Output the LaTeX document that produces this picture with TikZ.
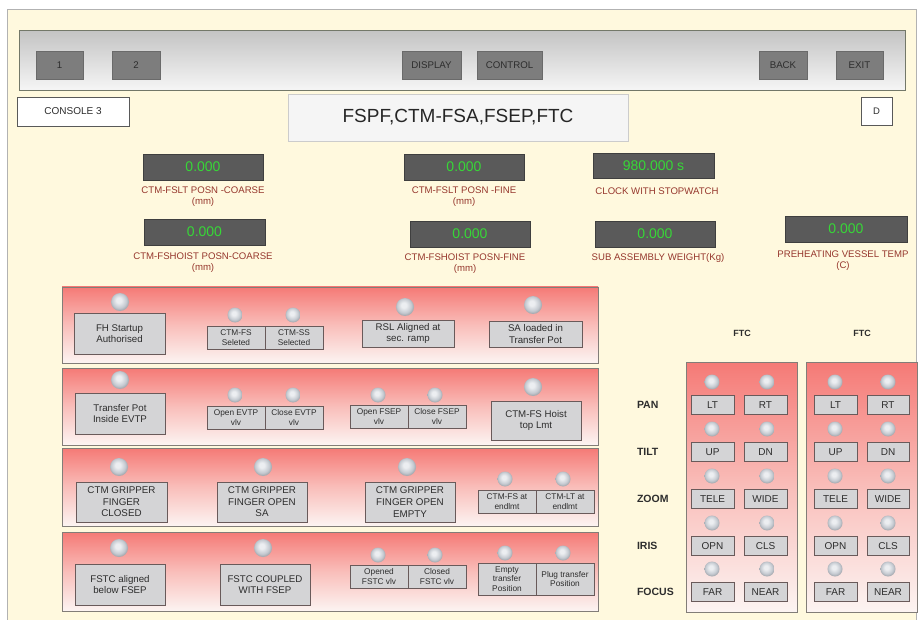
\documentclass[tikz,border=0pt]{standalone}
\usepackage{fontspec}
\setmainfont{Liberation Sans}
\definecolor{cream}{RGB}{255,249,222}
\definecolor{barline}{RGB}{115,120,105}
\definecolor{bartop}{RGB}{196,196,196}
\definecolor{barbot}{RGB}{246,246,246}
\definecolor{tbtn}{RGB}{125,125,125}
\definecolor{rdbox}{RGB}{90,90,90}
\definecolor{rdgreen}{RGB}{55,215,55}
\definecolor{rdlab}{RGB}{150,55,45}
\definecolor{salmon}{RGB}{245,122,118}
\definecolor{panmid}{RGB}{249,190,186}
\definecolor{panbot}{RGB}{252,244,242}
\definecolor{pborder}{RGB}{130,125,120}
\definecolor{bfill}{RGB}{212,212,214}
\definecolor{bborder}{RGB}{105,90,90}
\definecolor{lampc}{RGB}{196,201,208}
\definecolor{lamphi}{RGB}{236,238,241}
\definecolor{lampedge}{RGB}{160,164,170}
\definecolor{darktxt}{RGB}{45,45,45}
\pgfdeclareradialshading{lampsh}{\pgfqpoint{-4bp}{6bp}}{color(0bp)=(lamphi); color(7bp)=(lamphi); color(20bp)=(lampc); color(27bp)=(lampedge); color(50bp)=(lampedge)}
\newcommand\bx[7]{\node[#1,minimum width={(#4-#2)*1pt},minimum height={(#5-#3)*1pt}] (#6) at ({(#2+#4)/2},{(#3+#5)/2}) {#7};}
\begin{document}
\begin{tikzpicture}[x=1pt,y=-1pt,
  every node/.style={inner sep=0pt,outer sep=0pt},
  panel/.style={draw=pborder,line width=0.8pt,top color=salmon,bottom color=panbot,middle color=panmid},
  tbutton/.style={fill=tbtn,draw=tbtn!85!black,line width=0.4pt,font=\fontsize{9.7}{11}\selectfont,text=darktxt},
  readout/.style={fill=rdbox,draw=rdbox!70!black,line width=0.6pt,font=\fontsize{14}{16}\selectfont,text=rdgreen},
  rlab/.style={align=center,font=\fontsize{9.6}{11.2}\selectfont,text=rdlab},
  bigbtn/.style={draw=bborder,fill=bfill,line width=0.9pt,align=center,font=\fontsize{9.7}{11.6}\selectfont,text=darktxt},
  gripbtn/.style={bigbtn,font=\fontsize{9.8}{11.6}\selectfont},
  cell/.style={draw=bborder,fill=bfill,line width=0.8pt,align=center,font=\fontsize{8.3}{9.6}\selectfont,text=darktxt},
  ftcbtn/.style={draw=bborder,fill=bfill,line width=0.8pt,font=\fontsize{10}{11}\selectfont,text=darktxt},
  lamp/.style={circle,minimum size=18pt,shading=lampsh},
  slamp/.style={lamp,minimum size=15pt},
  rowlab/.style={anchor=west,font=\bfseries\fontsize{10.5}{12}\selectfont,text=darktxt}]
\useasboundingbox (0,0) rectangle (918,620);
\fill[white] (0,0) rectangle (918,620);
\bx{fill=cream,draw=gray!60,line width=0.6pt}{7}{9}{916}{625}{bg}{}
% top bar
\bx{draw=barline,line width=1pt,top color=bartop,bottom color=barbot}{19}{31}{905}{91}{bar}{}
\bx{tbutton}{36}{51}{83}{79}{b1}{1}
\bx{tbutton}{112}{51}{160}{79}{b2}{2}
\bx{tbutton}{402}{51}{461}{79}{bdisp}{DISPLAY}
\bx{tbutton}{477}{51}{542}{79}{bctrl}{CONTROL}
\bx{tbutton}{759}{51}{807}{79}{bback}{BACK}
\bx{tbutton}{836}{51}{883}{79}{bexit}{EXIT}
\bx{draw=gray!70!black,fill=white,line width=0.7pt,font=\fontsize{10}{12}\selectfont,text=darktxt}{17}{97}{129}{126}{cons}{CONSOLE 3}
\bx{draw=gray!40,fill=gray!8,line width=0.5pt,font=\fontsize{19}{22}\selectfont,text=black!85}{288}{94}{628}{141}{title}{FSPF,CTM-FSA,FSEP,FTC}
\bx{draw=gray!70!black,fill=white,line width=0.7pt,font=\fontsize{9.5}{11}\selectfont,text=darktxt}{861}{97}{892}{125}{dbox}{D}
% readouts
\bx{readout}{143}{154}{263}{180}{r1}{0.000}
\node[rlab] (r1l) at (203,197) {CTM-FSLT POSN -COARSE\\(mm)};
\bx{readout}{144}{219}{265}{245}{r2}{0.000}
\node[rlab] (r2l) at (203,263) {CTM-FSHOIST POSN-COARSE\\(mm)};
\bx{readout}{404}{154}{524}{180}{r3}{0.000}
\node[rlab] (r3l) at (464,197) {CTM-FSLT POSN -FINE\\(mm)};
\bx{readout}{410}{221}{530}{247}{r4}{0.000}
\node[rlab] (r4l) at (465,264) {CTM-FSHOIST POSN-FINE\\(mm)};
\bx{readout}{593}{153}{714}{178}{r5}{980.000 s}
\node[rlab] (r5l) at (657,191) {CLOCK WITH STOPWATCH};
\bx{readout}{595}{221}{715}{247}{r6}{0.000}
\node[rlab] (r6l) at (658,258) {SUB ASSEMBLY WEIGHT(Kg)};
\bx{readout}{785}{216}{907}{242}{r7}{0.000}
\node[rlab] (r7l) at (843,261) {PREHEATING VESSEL TEMP\\(C)};
% left panels
\bx{panel}{62}{287}{598}{363}{p1}{}
\bx{panel}{62}{368}{598}{445}{p2}{}
\bx{panel}{62}{448}{598}{526}{p3}{}
\bx{panel}{62}{532}{598}{611}{p4}{}
% row 1
\node[lamp] (l11) at (120,302) {};
\bx{bigbtn}{74}{313}{165}{354}{fh}{FH Startup\\Authorised}
\node[slamp] (l12) at (235,315) {};
\node[slamp] (l13) at (293,315) {};
\bx{cell}{207}{326}{265}{349}{ctmfs}{CTM-FS\\Seleted}
\bx{cell}{265}{326}{323}{349}{ctmss}{CTM-SS\\Selected}
\node[lamp] (l14) at (405,307) {};
\bx{bigbtn}{362}{320}{454}{347}{rsl}{RSL Aligned at\\sec. ramp}
\node[lamp] (l15) at (533,305) {};
\bx{bigbtn}{489}{321}{582}{347}{sal}{SA loaded in\\Transfer Pot}
% row 2
\node[lamp] (l21) at (120,380) {};
\bx{bigbtn}{75}{393}{165}{434}{tpot}{Transfer Pot\\Inside EVTP}
\node[slamp] (l22) at (235,395) {};
\node[slamp] (l23) at (293,395) {};
\bx{cell}{207}{406}{265}{429}{oevtp}{Open EVTP\\vlv}
\bx{cell}{265}{406}{323}{429}{cevtp}{Close EVTP\\vlv}
\node[slamp] (l24) at (378,395) {};
\node[slamp] (l25) at (435,395) {};
\bx{cell}{350}{405}{408}{428}{ofsep}{Open FSEP\\vlv}
\bx{cell}{408}{405}{466}{428}{cfsep}{Close FSEP\\vlv}
\node[lamp] (l26) at (533,387) {};
\bx{bigbtn}{491}{401}{581}{440}{hoist}{CTM-FS Hoist\\top Lmt}
% row 3
\node[lamp] (l31) at (119,467) {};
\bx{gripbtn}{76}{482}{167}{522}{gfc}{CTM GRIPPER\\FINGER\\CLOSED}
\node[lamp] (l32) at (263,467) {};
\bx{gripbtn}{217}{482}{307}{522}{gfo}{CTM GRIPPER\\FINGER OPEN\\SA}
\node[lamp] (l33) at (407,467) {};
\bx{gripbtn}{365}{482}{455}{522}{gfe}{CTM GRIPPER\\FINGER OPEN\\EMPTY}
\node[slamp] (l34) at (505,479) {};
\node[slamp] (l35) at (563,479) {};
\bx{cell}{478}{490}{536}{513}{fsend}{CTM-FS at\\endlmt}
\bx{cell}{536}{490}{594}{513}{ltend}{CTM-LT at\\endlmt}
% row 4
\node[lamp] (l41) at (119,548) {};
\bx{bigbtn}{75}{564}{165}{605}{fstca}{FSTC aligned\\below FSEP}
\node[lamp] (l42) at (263,548) {};
\bx{bigbtn}{220}{564}{310}{605}{fstcc}{FSTC COUPLED\\WITH FSEP}
\node[slamp] (l43) at (378,555) {};
\node[slamp] (l44) at (435,555) {};
\bx{cell}{350}{565}{408}{588}{ofstc}{Opened\\FSTC vlv}
\bx{cell}{408}{565}{466}{588}{cfstc}{Closed\\FSTC vlv}
\node[slamp] (l45) at (505,553) {};
\node[slamp] (l46) at (563,553) {};
\bx{cell}{478}{563}{536}{595}{empt}{Empty\\transfer\\Position}
\bx{cell}{536}{563}{594}{595}{plug}{Plug transfer\\Position}
% FTC panels
\node[font=\bfseries\fontsize{9}{11}\selectfont,text=darktxt] (ftc1) at (742,333) {FTC};
\node[font=\bfseries\fontsize{9}{11}\selectfont,text=darktxt] (ftc2) at (862,333) {FTC};
\bx{panel}{686}{362}{797}{612}{fp1}{}
\bx{panel}{806}{362}{917}{612}{fp2}{}
\node[rowlab] (pan) at (637,405) {PAN};
\node[rowlab] (tilt) at (637,452) {TILT};
\node[rowlab] (zoom) at (637,499) {ZOOM};
\node[rowlab] (iris) at (637,546) {IRIS};
\node[rowlab] (focus) at (637,592) {FOCUS};
\foreach \yy/\a/\b/\k in {405/LT/RT/1,452/UP/DN/2,499/TELE/WIDE/3,546/OPN/CLS/4,592/FAR/NEAR/5}{
  \node[slamp] (fa\k) at (712,\yy-23) {};
  \node[slamp] (fb\k) at (767,\yy-23) {};
  \node[slamp] (fc\k) at (835,\yy-23) {};
  \node[slamp] (fd\k) at (888,\yy-23) {};
  \node[ftcbtn,minimum width=43pt,minimum height=19pt] (ba\k) at (712.5,\yy) {\a};
  \node[ftcbtn,minimum width=43pt,minimum height=19pt] (bb\k) at (765.5,\yy) {\b};
  \node[ftcbtn,minimum width=43pt,minimum height=19pt] (bc\k) at (835.5,\yy) {\a};
  \node[ftcbtn,minimum width=42pt,minimum height=19pt] (bd\k) at (888,\yy) {\b};
}
\end{tikzpicture}
\end{document}
